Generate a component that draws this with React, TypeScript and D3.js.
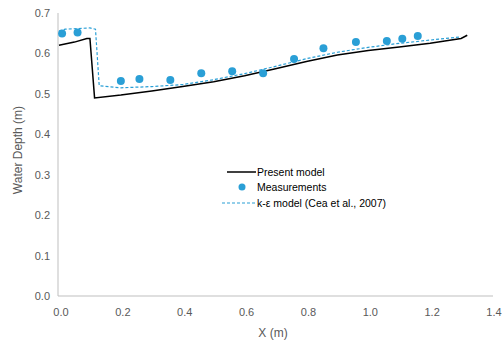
import React from "react";
import * as d3 from "d3";

// Measured water depth along the channel
const measX = [0.01, 0.06, 0.2, 0.26, 0.36, 0.46, 0.56, 0.66, 0.76, 0.855, 0.96, 1.06, 1.11, 1.16];
const measY = [0.649, 0.652, 0.532, 0.537, 0.534, 0.551, 0.556, 0.551, 0.586, 0.613, 0.628, 0.631, 0.636, 0.643];

// Present model profile
const modelX = [0, 0.05, 0.09, 0.1, 0.115, 0.2, 0.3, 0.4, 0.5, 0.6, 0.7, 0.8, 0.9, 1.0, 1.1, 1.2, 1.3, 1.32];
const modelY = [0.62, 0.628, 0.637, 0.637, 0.49, 0.497, 0.507, 0.518, 0.53, 0.545, 0.562, 0.58, 0.596, 0.607, 0.616, 0.625, 0.637, 0.645];

// k-ε model profile (Cea et al., 2007)
const keX = [0, 0.02, 0.1, 0.118, 0.13, 0.2, 0.3, 0.4, 0.5, 0.6, 0.7, 0.8, 0.9, 1.0, 1.1, 1.2, 1.3];
const keY = [0.655, 0.66, 0.663, 0.66, 0.52, 0.515, 0.518, 0.523, 0.535, 0.55, 0.568, 0.587, 0.603, 0.615, 0.625, 0.633, 0.641];

const xTicks = [0, 0.2, 0.4, 0.6, 0.8, 1.0, 1.2, 1.4];
const yTicks = [0, 0.1, 0.2, 0.3, 0.4, 0.5, 0.6, 0.7];

const W = 502;
const H = 345;
const BLUE = "#2a9fd6";
const TEXT = "#595959";
const FONT = "Liberation Sans, Arial, sans-serif";

export default function App() {
  const x = d3.scaleLinear().domain([0, 1.4]).range([59, 492]);
  const y = d3.scaleLinear().domain([0, 0.7]).range([296, 13]);
  const line = d3
    .line<[number, number]>()
    .x((d) => x(d[0]))
    .y((d) => y(d[1]));
  const model = modelX.map((v, i) => [v, modelY[i]] as [number, number]);
  const ke = keX.map((v, i) => [v, keY[i]] as [number, number]);

  return (
    <svg
      width={W}
      height={H}
      style={{ position: "absolute", left: 0, top: 0, background: "#fff" }}
      fontFamily={FONT}
    >
      {/* axes */}
      <line x1={58} x2={58} y1={13} y2={296} stroke="#bfbfbf" strokeWidth={1} />
      <line x1={58} x2={493} y1={296} y2={296} stroke="#bfbfbf" strokeWidth={1} />
      {yTicks.map((t) => (
        <text key={t} x={50} y={y(t) + 4} textAnchor="end" fontSize={11} fill={TEXT}>
          {t.toFixed(1)}
        </text>
      ))}
      {xTicks.map((t) => (
        <text key={t} x={x(t) + 2} y={316} textAnchor="middle" fontSize={11} fill={TEXT}>
          {t.toFixed(1)}
        </text>
      ))}
      <text x={273} y={337} textAnchor="middle" fontSize={12} fill={TEXT}>
        X (m)
      </text>
      <text
        transform={`translate(22,150) rotate(-90)`}
        textAnchor="middle"
        fontSize={12}
        fill={TEXT}
      >
        Water Depth (m)
      </text>

      {/* series */}
      <path d={line(model) ?? ""} fill="none" stroke="#000" strokeWidth={1.5} />
      <path d={line(ke) ?? ""} fill="none" stroke={BLUE} strokeWidth={1.2} strokeDasharray="3,2" />
      {measX.map((v, i) => (
        <circle key={i} cx={x(v)} cy={y(measY[i])} r={4} fill={BLUE} />
      ))}

      {/* legend */}
      <g fontSize={10.5} fill="#000">
        <line x1={227} x2={256} y1={172} y2={172} stroke="#000" strokeWidth={1.5} />
        <text x={257} y={176}>Present model</text>
        <circle cx={242} cy={187} r={3.5} fill={BLUE} />
        <text x={257} y={191}>Measurements</text>
        <line x1={222} x2={256} y1={203} y2={203} stroke={BLUE} strokeWidth={1.2} strokeDasharray="3,2" />
        <text x={257} y={207}>k-ε model (Cea et al., 2007)</text>
      </g>
    </svg>
  );
}
